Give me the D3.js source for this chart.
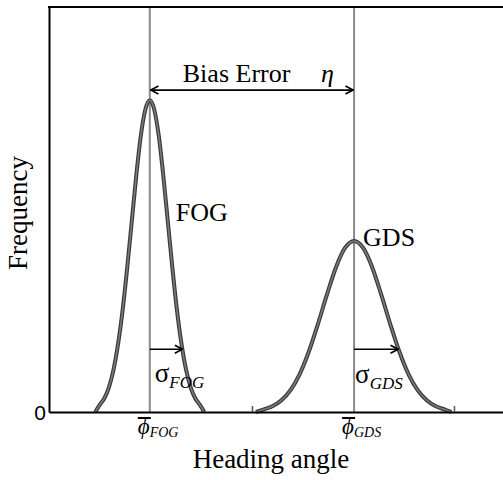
<!DOCTYPE html>
<html>
<head>
<meta charset="utf-8">
<script src="https://cdn.jsdelivr.net/npm/d3@7"></script>
<style>
  html, body { margin: 0; padding: 0; background: #fff; }
  svg { display: block; }
  text { font-family: "Liberation Serif", "Times New Roman", serif; fill: #000; }
</style>
</head>
<body>
<svg id="chart" width="503" height="480"></svg>
<script>
// ---- data ----
const fogMean = 2.0;
const gdsMean = 6.5;
const fogX = [0.8, 0.9, 1.0, 1.1, 1.2, 1.3, 1.4, 1.5, 1.6, 1.7, 1.8, 1.9, 2.0, 2.1, 2.2, 2.3, 2.4, 2.5, 2.6, 2.7, 2.8, 2.9, 3.0, 3.1, 3.2];
const fogY = [0.0, 0.018, 0.034, 0.061, 0.104, 0.167, 0.250, 0.353, 0.467, 0.581, 0.680, 0.746, 0.770, 0.746, 0.680, 0.581, 0.467, 0.353, 0.250, 0.167, 0.104, 0.061, 0.034, 0.018, 0.0];
const gdsX = [4.34, 4.5, 4.7, 4.9, 5.1, 5.3, 5.5, 5.7, 5.9, 6.1, 6.3, 6.5, 6.7, 6.9, 7.1, 7.3, 7.5, 7.7, 7.9, 8.1, 8.3, 8.5, 8.64];
const gdsY = [0.0, 0.006, 0.014, 0.029, 0.054, 0.093, 0.148, 0.216, 0.289, 0.357, 0.405, 0.422, 0.405, 0.357, 0.289, 0.216, 0.148, 0.093, 0.054, 0.029, 0.014, 0.006, 0.0];
const xTickValues = [4.25, 8.7];
const yTickValues = [0];
const yTickLabels = ["0"];
const biasLevel = 0.795;     // height of the bias error arrow
const sigmaLevel = 0.155;    // height of sigma arrows
const fogSigmaEnd = 2.72;
const gdsSigmaEnd = 7.47;

// ---- scales ----
const svg = d3.select("#chart");
const margin = { left: 49, right: 0, top: 7, bottom: 68 };
const W = 503, H = 480;
const x = d3.scaleLinear().domain([-0.22, 9.78]).range([margin.left, W - margin.right]);
const y = d3.scaleLinear().domain([0, 1]).range([H - margin.bottom, margin.top]);

// markers
const defs = svg.append("defs");
defs.append("marker").attr("id", "headEnd")
  .attr("viewBox", "0 0 10 10").attr("refX", 9.5).attr("refY", 5)
  .attr("markerWidth", 9).attr("markerHeight", 10).attr("markerUnits", "userSpaceOnUse")
  .attr("orient", "auto")
  .append("path").attr("d", "M1,0.5 L9.5,5 L1,9.5").attr("fill", "none").attr("stroke", "#000").attr("stroke-width", 1.8);
defs.append("marker").attr("id", "headStart")
  .attr("viewBox", "0 0 10 10").attr("refX", 0.5).attr("refY", 5)
  .attr("markerWidth", 9).attr("markerHeight", 10).attr("markerUnits", "userSpaceOnUse")
  .attr("orient", "auto")
  .append("path").attr("d", "M9,0.5 L0.5,5 L9,9.5").attr("fill", "none").attr("stroke", "#000").attr("stroke-width", 1.8);

// mean vertical lines
[fogMean, gdsMean].forEach(m => {
  svg.append("line")
    .attr("x1", x(m)).attr("x2", x(m))
    .attr("y1", y(1)).attr("y2", y(0))
    .attr("stroke", "#8a8a8a").attr("stroke-width", 2);
});

// curves
const line = d3.line().x(d => x(d[0])).y(d => y(d[1])).curve(d3.curveMonotoneX);
const fogPts = fogX.map((v, i) => [v, fogY[i]]);
const gdsPts = gdsX.map((v, i) => [v, gdsY[i]]);
[fogPts, gdsPts].forEach(pts => {
  svg.append("path").attr("d", line(pts))
    .attr("fill", "none").attr("stroke", "#3a3a3a").attr("stroke-width", 4)
    .attr("stroke-linejoin", "round");
  svg.append("path").attr("d", line(pts))
    .attr("fill", "none").attr("stroke", "#7a7a7a").attr("stroke-width", 1.6)
    .attr("stroke-linejoin", "round");
});

// axes
const xAxis = d3.axisBottom(x).tickValues(xTickValues).tickSize(-6).tickSizeOuter(0).tickFormat("");
const gx = svg.append("g").attr("transform", `translate(0,${y(0)})`).call(xAxis);
gx.select(".domain").attr("stroke", "#000").attr("stroke-width", 2);
gx.selectAll(".tick line").attr("stroke", "#555").attr("stroke-width", 1.5);

const yAxis = d3.axisLeft(y).tickValues(yTickValues).tickSize(0).tickSizeOuter(0)
  .tickFormat((d, i) => yTickLabels[i]).tickPadding(3);
const gy = svg.append("g").attr("transform", `translate(${x.range()[0]},0)`).call(yAxis);
gy.select(".domain").attr("stroke", "#000").attr("stroke-width", 2);
gy.selectAll(".tick text")
  .style("font-family", "'Liberation Sans', Arial, sans-serif")
  .style("font-size", "21px").attr("fill", "#000").attr("dy", "0.36em");

// top frame line
svg.append("line")
  .attr("x1", x.range()[0] - 1).attr("x2", x.range()[1])
  .attr("y1", y(1)).attr("y2", y(1))
  .attr("stroke", "#000").attr("stroke-width", 2);

// bias error arrow
svg.append("line")
  .attr("x1", x(fogMean) + 1).attr("x2", x(gdsMean) - 1)
  .attr("y1", y(biasLevel)).attr("y2", y(biasLevel))
  .attr("stroke", "#000").attr("stroke-width", 1.8)
  .attr("marker-start", "url(#headStart)").attr("marker-end", "url(#headEnd)");
svg.append("text").attr("x", x(fogMean) + 33).attr("y", y(biasLevel) - 8)
  .style("font-size", "26px").text("Bias Error");
svg.append("text").attr("x", x(gdsMean) - 33).attr("y", y(biasLevel) - 8)
  .style("font-size", "26px").style("font-style", "italic").text("η");

// sigma arrows
[[fogMean, fogSigmaEnd], [gdsMean, gdsSigmaEnd]].forEach(([a, b]) => {
  svg.append("line")
    .attr("x1", x(a)).attr("x2", x(b))
    .attr("y1", y(sigmaLevel)).attr("y2", y(sigmaLevel))
    .attr("stroke", "#000").attr("stroke-width", 1.5)
    .attr("marker-end", "url(#headEnd)");
});

// curve labels
svg.append("text").attr("x", x(fogMean) + 26).attr("y", 221).style("font-size", "26px").text("FOG");
svg.append("text").attr("x", x(gdsMean) + 9).attr("y", 246).style("font-size", "26px").text("GDS");

// sigma labels
function sigmaLabel(cx, sub, base) {
  const t = svg.append("text").attr("x", cx).attr("y", base).style("font-size", "27px");
  t.append("tspan").text("σ");
  t.append("tspan").attr("dy", 6).style("font-size", "17px").style("font-style", "italic").text(sub);
}
sigmaLabel(x(fogMean) + 5, "FOG", 382);
sigmaLabel(x(gdsMean) + 1, "GDS", 383);

// phi-bar labels under the axis
function phiLabel(cx, sub) {
  const t = svg.append("text").attr("x", cx - 12).attr("y", 434).style("font-size", "23px").style("font-style", "italic");
  t.append("tspan").text("ϕ");
  t.append("tspan").attr("dy", 3).style("font-size", "14px").text(sub);
  svg.append("line").attr("x1", cx - 12).attr("x2", cx + 1)
    .attr("y1", 418).attr("y2", 418).attr("stroke", "#000").attr("stroke-width", 2);
}
phiLabel(x(fogMean), "FOG");
phiLabel(x(gdsMean), "GDS");

// axis titles
svg.append("text").attr("x", (x.range()[0] + x.range()[1]) / 2 - 5).attr("y", 468)
  .attr("text-anchor", "middle").style("font-size", "27px").text("Heading angle");
svg.append("text").attr("transform", "translate(27,213) rotate(-90)")
  .attr("text-anchor", "middle").style("font-size", "27px").text("Frequency");
</script>
</body>
</html>
